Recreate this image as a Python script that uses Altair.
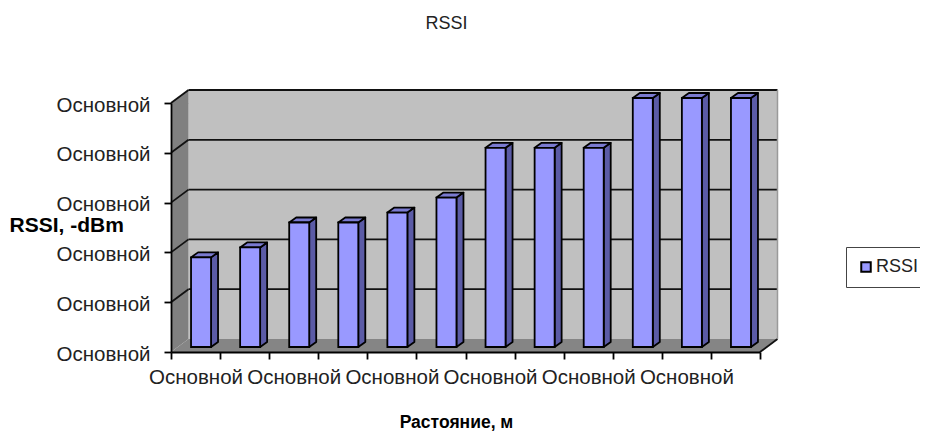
import altair as alt
import pandas as pd

TITLE = "RSSI"
Y_TITLE = "RSSI, -dBm"
X_TITLE = "Растояние, м"
LABEL = "Основной"
SERIES = "RSSI"
values = [1.8, 2.0, 2.5, 2.5, 2.7, 3.0, 4.0, 4.0, 4.0, 5.0, 5.0, 5.0]

W, H = 589, 249
NCAT, VMAX = len(values), 5
UX, UY = NCAT / W, VMAX / H      # data units per pixel
FONT = "Liberation Sans"
LINE = 1.8

# oblique 3-D projection, in data units
DX, DY = 17.5 * UX, 13 * UY      # wall depth
BW = 20 * UX                     # bar front width
BDX, BDY = 7 * UX, 5 * UY        # bar depth
BSX, BSY = 5.5 * UX, 5 * UY      # shift of the bar front from the axis plane


def para(x0, low, high, dx, dy, name):
    return [
        dict(face=name, x=x0, y=low, y2=high),
        dict(face=name, x=x0 + dx, y=low + dy, y2=high + dy),
    ]


def top_face(x0, x1, y0, dx, dy, name):
    return [
        dict(face=name, x=x0, y=y0, y2=y0),
        dict(face=name, x=x0 + dx, y=y0, y2=y0 + dy),
        dict(face=name, x=x1, y=y0, y2=y0 + dy),
        dict(face=name, x=x1 + dx, y=y0 + dy, y2=y0 + dy),
    ]


fronts, sides, tops = [], [], []
for i, v in enumerate(values):
    x0 = i + 0.5 + BSX - BW / 2
    x1 = x0 + BW
    base = BSY
    topv = base + v
    fronts.append(dict(x=x0, x2=x1, y=base, y2=topv, series=SERIES))
    sides += para(x1, base, topv, BDX, BDY, f"s{i}")
    tops += top_face(x0, x1, topv, BDX, BDY, f"t{i}")

wall = pd.DataFrame([dict(x=DX, x2=NCAT + DX, y=DY, y2=VMAX + DY)])
left = pd.DataFrame(para(0, 0, VMAX, DX, DY, "l"))
floor = pd.DataFrame(top_face(0, NCAT, 0, DX, DY, "f"))
grid = pd.DataFrame([dict(x=DX, x2=NCAT + DX, y=k + DY) for k in range(1, VMAX + 1)])
diag = pd.DataFrame(
    [dict(g=f"d{k}", x=0, y=k) for k in range(1, VMAX + 1)]
    + [dict(g=f"d{k}", x=DX, y=k + DY) for k in range(1, VMAX + 1)]
    + [dict(g="r", x=NCAT, y=0), dict(g="r", x=NCAT + DX, y=DY)]
)
rightedge = pd.DataFrame([dict(x=NCAT + DX, y=DY, y2=VMAX + DY)])

xs = alt.Scale(domain=[0, NCAT], nice=False, zero=False)
ys = alt.Scale(domain=[0, VMAX], nice=False, zero=False)
x_ticks = [k / 2 for k in range(2 * NCAT + 1)]

X = alt.X(
    "x:Q", scale=xs, title=X_TITLE,
    axis=alt.Axis(
        values=x_ticks, grid=False, domainColor="black", domainWidth=LINE,
        tickColor="black", tickWidth=LINE, tickSize=7, zindex=1,
        tickOpacity=alt.expr("floor(datum.value) == datum.value ? 1 : 0"),
        labelExpr=f"(datum.value * 2) % 4 == 1 ? '{LABEL}' : ''",
        labelFlush=False, labelOverlap=False, labelFont=FONT, labelFontSize=20.5, labelColor="#222",
        labelPadding=8, titleFont=FONT, titleFontSize=17.5, titleFontWeight="bold",
        titleColor="black", titleX=285, titleY=70, titleBaseline="middle", titleAlign="center",
    ),
)
Y = alt.Y(
    "y:Q", scale=ys, title=Y_TITLE,
    axis=alt.Axis(
        values=list(range(VMAX + 1)), grid=False, domainColor="black", domainWidth=LINE,
        tickColor="black", tickWidth=LINE, tickSize=7, labelExpr=f"'{LABEL}'", zindex=1,
        labelFont=FONT, labelFontSize=20.5, labelColor="#222", labelPadding=14, labelOffset=2,
        titleFont=FONT, titleFontSize=21, titleFontWeight="bold", titleColor="black",
        titleAngle=0, titleAlign="left", titleBaseline="middle", titleX=-162, titleY=122,
    ),
)

wall_l = alt.Chart(wall).mark_rect(color="#C0C0C0").encode(x=X, x2="x2:Q", y=Y, y2="y2:Q")
left_l = alt.Chart(left).mark_area(color="#808080", opacity=1).encode(x=X, y=Y, y2="y2:Q")
floor_l = alt.Chart(floor).mark_area(color="#858585", opacity=1).encode(x=X, y=Y, y2="y2:Q")
grid_l = alt.Chart(grid).mark_rule(color="#111", strokeWidth=LINE).encode(x=X, x2="x2:Q", y=Y)
diag_l = alt.Chart(diag).mark_line(color="#111", strokeWidth=LINE).encode(x=X, y=Y, detail="g:N")
edge_l = alt.Chart(rightedge).mark_rule(color="#9a9a9a", strokeWidth=1.5).encode(x=X, y=Y, y2="y2:Q")
side_l = alt.Chart(pd.DataFrame(sides)).mark_area(
    color="#5B5BA6", stroke="black", strokeWidth=LINE, opacity=1, strokeJoin="round"
).encode(x=X, y=Y, y2="y2:Q", detail="face:N")
top_l = alt.Chart(pd.DataFrame(tops)).mark_area(
    color="#7A7AD0", stroke="black", strokeWidth=LINE, opacity=1, strokeJoin="round"
).encode(x=X, y=Y, y2="y2:Q", detail="face:N")
front_l = alt.Chart(pd.DataFrame(fronts)).mark_rect(stroke="black", strokeWidth=LINE).encode(
    x=X, x2="x2:Q", y=Y, y2="y2:Q",
    color=alt.Color(
        "series:N",
        scale=alt.Scale(domain=[SERIES], range=["#9999FF"]),
        legend=alt.Legend(
            title=None, orient="none", legendX=675, legendY=144, padding=11,
            strokeColor="#444", fillColor="white", symbolType="square", symbolSize=90,
            symbolStrokeColor="black", symbolStrokeWidth=2, labelFont=FONT, labelFontSize=18,
            labelColor="#222", labelOffset=1, rowPadding=0, cornerRadius=0,
        ),
    ),
)

chart = (
    alt.layer(wall_l, left_l, floor_l, grid_l, diag_l, edge_l, side_l, top_l, front_l)
    .properties(
        width=W, height=H,
        autosize=alt.AutoSizeParams(type="none"),
        padding={"left": 163, "top": 95, "right": 160, "bottom": 80},
        title=alt.TitleParams(
            TITLE, anchor="middle", frame="group", dx=-19, offset=53,
            font=FONT, fontSize=18, fontWeight="normal", color="#222",
        ),
    )
    .configure_view(stroke=None)
    .configure(background="white")
)
chart.save("out.html", embed_options={"renderer": "svg", "actions": False})
